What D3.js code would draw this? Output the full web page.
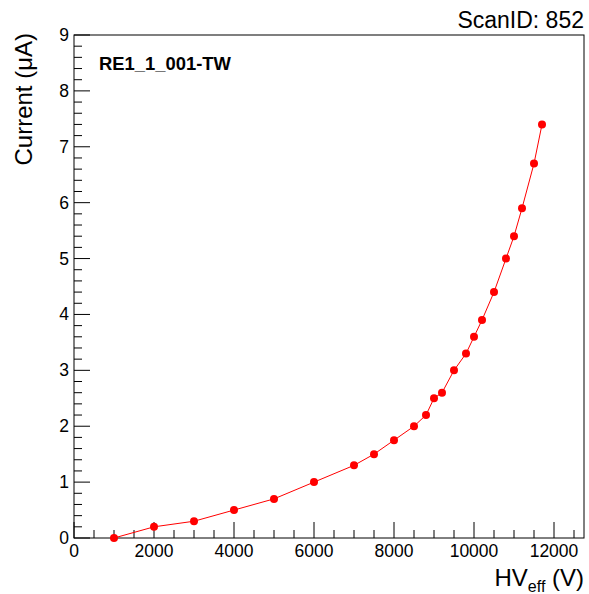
<!DOCTYPE html>
<html>
<head>
<meta charset="utf-8">
<script src="https://cdn.jsdelivr.net/npm/d3@7"></script>
<style>
  html, body { margin: 0; padding: 0; background: #fff; }
  svg { display: block; font-family: "Liberation Sans", Arial, Helvetica, sans-serif; }
</style>
</head>
<body>
<svg id="chart" width="589" height="594"></svg>
<script>
const hvEff = [1000, 2000, 3000, 4000, 5000, 6000, 7000, 7500, 8000, 8500, 8800, 9000, 9200, 9500, 9800, 10000, 10200, 10500, 10800, 11000, 11200, 11500, 11700];
const current = [0, 0.2, 0.3, 0.5, 0.7, 1.0, 1.3, 1.5, 1.75, 2.0, 2.2, 2.5, 2.6, 3.0, 3.3, 3.6, 3.9, 4.4, 5.0, 5.4, 5.9, 6.7, 7.4];
const xTicks = [0, 2000, 4000, 6000, 8000, 10000, 12000];
const yTicks = [0, 1, 2, 3, 4, 5, 6, 7, 8, 9];
const chamberLabel = "RE1_1_001-TW";
const scanLabel = "ScanID: 852";

const svg = d3.select("#chart");
const pL = 74, pR = 584, pT = 35, pB = 538;

const x = d3.scaleLinear().domain([0, 12750]).range([pL, pR]);
const y = d3.scaleLinear().domain([0, 9]).range([pB, pT]);

// frame
svg.append("rect")
  .attr("x", pL).attr("y", pT)
  .attr("width", pR - pL).attr("height", pB - pT)
  .attr("fill", "none").attr("stroke", "#000").attr("stroke-width", 1);

// x ticks
const xMinor = d3.range(0, 12751, 500);
svg.append("g").selectAll("line").data(xMinor).join("line")
  .attr("x1", d => x(d)).attr("x2", d => x(d))
  .attr("y1", pB).attr("y2", d => pB - (d % 2000 === 0 ? 16 : 8))
  .attr("stroke", "#000").attr("stroke-width", 1);
svg.append("g").selectAll("text").data(xTicks).join("text")
  .attr("x", d => x(d)).attr("y", 557)
  .attr("text-anchor", "middle")
  .attr("font-size", 17.5)
  .text(d => d);

// y ticks
const yMinor = d3.range(0, 45).map(i => i / 5).concat([9]);
svg.append("g").selectAll("line").data(yMinor).join("line")
  .attr("x1", pL).attr("x2", d => pL + (Math.abs(d - Math.round(d)) < 1e-6 ? 16 : 8))
  .attr("y1", d => y(d)).attr("y2", d => y(d))
  .attr("stroke", "#000").attr("stroke-width", 1);
svg.append("g").selectAll("text").data(yTicks).join("text")
  .attr("x", 69).attr("y", d => y(d) + 6)
  .attr("text-anchor", "end")
  .attr("font-size", 17.5)
  .text(d => d);

// axis titles
const xt = svg.append("text")
  .attr("x", 584).attr("y", 586)
  .attr("text-anchor", "end")
  .attr("font-size", 24);
xt.append("tspan").text("HV");
xt.append("tspan").attr("font-size", 16).attr("dy", 6).text("eff");
xt.append("tspan").attr("dy", -6).text(" (V)");

svg.append("text")
  .attr("transform", "translate(32,33) rotate(-90)")
  .attr("text-anchor", "end")
  .attr("font-size", 24)
  .text("Current (\u03BCA)");

svg.append("text")
  .attr("x", 584).attr("y", 28)
  .attr("text-anchor", "end")
  .attr("font-size", 23)
  .text(scanLabel);

svg.append("text")
  .attr("x", 99).attr("y", 70)
  .attr("font-size", 18.4)
  .attr("font-weight", "bold")
  .text(chamberLabel);

// data
const pts = hvEff.map((v, i) => ({ x: v, y: current[i] }));
svg.append("path")
  .datum(pts)
  .attr("fill", "none")
  .attr("stroke", "#ff0000")
  .attr("stroke-width", 1)
  .attr("d", d3.line().x(d => x(d.x)).y(d => y(d.y)));
svg.append("g").selectAll("circle").data(pts).join("circle")
  .attr("cx", d => x(d.x)).attr("cy", d => y(d.y))
  .attr("r", 4)
  .attr("fill", "#ff0000");
</script>
</body>
</html>
